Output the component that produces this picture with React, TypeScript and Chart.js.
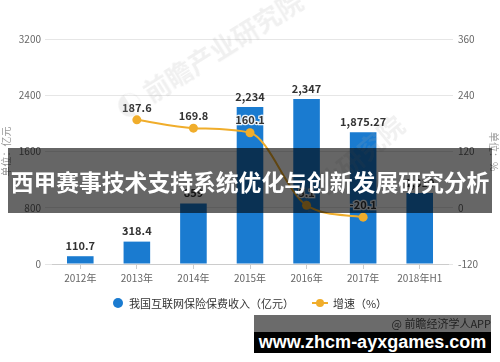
import React, { useEffect, useRef } from 'react';
import { Chart, registerables } from 'chart.js';

Chart.register(...registerables);

const categories = ['2012年', '2013年', '2014年', '2015年', '2016年', '2017年', '2018年H1'];
const premium = [110.7, 318.4, 859, 2234, 2347, 1875.27, 1010];
const growth: (number | null)[] = [null, 187.6, 169.8, 160.1, 5.1, -20.1, null];
const leftTicks = [0, 800, 1600, 2400, 3200];
const rightTicks = [-120, 0, 120, 240, 360];

const FONT = '"Noto Sans CJK SC", "Noto Sans", sans-serif';
const BAR_COLOR = '#1a7bd0';
const LINE_COLOR = '#f0ad2b';

const labelPlugin = {
  id: 'valueLabels',
  afterDatasetsDraw(chart: any) {
    const ctx = chart.ctx;
    ctx.save();
    ctx.font = `bold 11px ${FONT}`;
    ctx.textAlign = 'center';
    ctx.textBaseline = 'bottom';
    chart.getDatasetMeta(0).data.forEach((el: any, i: number) => {
      const v = premium[i];
      ctx.fillStyle = '#333';
      ctx.fillText(v.toLocaleString('en-US'), el.x, el.y - 5);
    });
    chart.getDatasetMeta(1).data.forEach((el: any, i: number) => {
      const v = growth[i];
      if (v == null) return;
      const t = v.toFixed(1);
      ctx.lineWidth = 2.5;
      ctx.strokeStyle = 'rgba(255,255,255,0.9)';
      ctx.strokeText(t, el.x, el.y - 7);
      ctx.fillStyle = '#333';
      ctx.fillText(t, el.x, el.y - 7);
    });
    ctx.restore();
  },
};

function ChartCanvas() {
  const ref = useRef<HTMLCanvasElement | null>(null);
  useEffect(() => {
    if (!ref.current) return;
    const chart = new Chart(ref.current, {
      type: 'bar',
      data: {
        labels: categories,
        datasets: [
          {
            type: 'bar',
            label: '我国互联网保险保费收入（亿元）',
            data: premium,
            backgroundColor: BAR_COLOR,
            barPercentage: 0.47,
            categoryPercentage: 1,
            yAxisID: 'y',
            order: 1,
          } as any,
          {
            type: 'line',
            label: '增速（%）',
            data: growth,
            borderColor: LINE_COLOR,
            backgroundColor: LINE_COLOR,
            borderWidth: 2,
            pointRadius: 4.5,
            pointBackgroundColor: LINE_COLOR,
            pointBorderWidth: 0,
            cubicInterpolationMode: 'monotone',
            yAxisID: 'y1',
            order: 0,
          } as any,
        ],
      },
      options: {
        responsive: false,
        animation: false,
        layout: { padding: { top: 39, bottom: 75, left: 0, right: 0 } },
        plugins: { legend: { display: false }, tooltip: { enabled: false } },
        scales: {
          x: {
            grid: { display: true, drawOnChartArea: false, offset: false, tickLength: 5, color: '#cccccc' },
            border: { color: '#cccccc' },
            ticks: { color: '#666', font: { size: 10, family: FONT }, padding: 3 },
          },
          y: {
            position: 'left',
            min: leftTicks[0],
            max: leftTicks[leftTicks.length - 1],
            afterBuildTicks: (s: any) => { s.ticks = leftTicks.map((v) => ({ value: v })); },
            afterFit: (s: any) => { s.width = 52; },
            grid: { color: '#e6e6e6', tickLength: 7 },
            border: { display: false },
            ticks: { color: '#666', font: { size: 10, family: FONT }, padding: 4, callback: (v: any) => String(v) },
            title: { display: true, text: '单位：亿元', color: '#999', font: { size: 10, family: FONT }, padding: 0 },
          },
          y1: {
            position: 'right',
            min: rightTicks[0],
            max: rightTicks[rightTicks.length - 1],
            afterBuildTicks: (s: any) => { s.ticks = rightTicks.map((v) => ({ value: v })); },
            afterFit: (s: any) => { s.width = 52; },
            grid: { drawOnChartArea: false, color: '#e6e6e6', tickLength: 5 },
            border: { display: false },
            ticks: { color: '#666', font: { size: 10, family: FONT }, padding: 5, callback: (v: any) => String(v) },
            title: { display: true, text: '单位：%', color: '#999', font: { size: 10, family: FONT }, padding: 0 },
          },
        },
      } as any,
      plugins: [labelPlugin],
    });
    return () => chart.destroy();
  }, []);
  return <canvas ref={ref} width={500} height={362} style={{ display: 'block' }} />;
}

export default function App() {
  return (
    <div style={{ position: 'absolute', left: 0, top: 0, width: 500, height: 362, background: '#fff', overflow: 'hidden', fontFamily: FONT }}>
      <ChartCanvas />
      {/* faint watermarks */}
      <div style={{ position: 'absolute', left: 118, top: 92, transform: 'rotate(-32deg)', transformOrigin: 'left center', fontSize: 26, fontWeight: 700, color: 'rgba(170,170,170,0.18)', whiteSpace: 'nowrap', pointerEvents: 'none' }}>
        ◐ 前瞻产业研究院
      </div>
      <div style={{ position: 'absolute', left: 300, top: 185, transform: 'rotate(-40deg)', transformOrigin: 'left center', fontSize: 26, fontWeight: 700, color: 'rgba(170,170,170,0.16)', whiteSpace: 'nowrap', pointerEvents: 'none' }}>
        产业研究院
      </div>
      {/* legend */}
      <div style={{ position: 'absolute', left: 0, top: 295, width: 500, display: 'flex', justifyContent: 'center', alignItems: 'center', fontSize: 11, color: '#333', whiteSpace: 'nowrap' }}>
        <span style={{ display: 'inline-block', width: 10, height: 10, borderRadius: 5, background: BAR_COLOR, marginRight: 6 }} />
        <span>我国互联网保险保费收入（亿元）</span>
        <span style={{ position: 'relative', display: 'inline-block', width: 16, height: 10, marginLeft: 18, marginRight: 5 }}>
          <span style={{ position: 'absolute', left: 0, top: 4, width: 16, height: 2, background: LINE_COLOR }} />
          <span style={{ position: 'absolute', left: 4, top: 1, width: 8, height: 8, borderRadius: 4, background: LINE_COLOR }} />
        </span>
        <span>增速（%）</span>
      </div>
      {/* title band */}
      <div style={{ position: 'absolute', left: 8, top: 148, width: 484, height: 65, background: 'rgba(0,0,0,0.6)' }}>
        <div style={{ position: 'absolute', left: 0, top: 22, width: 484, textAlign: 'center', fontSize: 22.8, lineHeight: '24px', fontWeight: 700, color: '#fff', whiteSpace: 'nowrap' }}>
          西甲赛事技术支持系统优化与创新发展研究分析
        </div>
      </div>
      {/* bottom band */}
      <div style={{ position: 'absolute', left: 254, top: 315, width: 237, height: 17, background: '#6b6b6b', color: '#222', fontSize: 11, lineHeight: '17px', textAlign: 'right', whiteSpace: 'nowrap' }}>
        @ 前瞻经济学人APP
      </div>
      <div style={{ position: 'absolute', left: 254, top: 332, width: 237, height: 21, background: '#000', color: '#fff', fontFamily: '"Liberation Sans", Arial, sans-serif', fontWeight: 700, fontSize: 18, lineHeight: '21px', textAlign: 'center', whiteSpace: 'nowrap' }}>
        www.zhcm-ayxgames.com
      </div>
    </div>
  );
}
